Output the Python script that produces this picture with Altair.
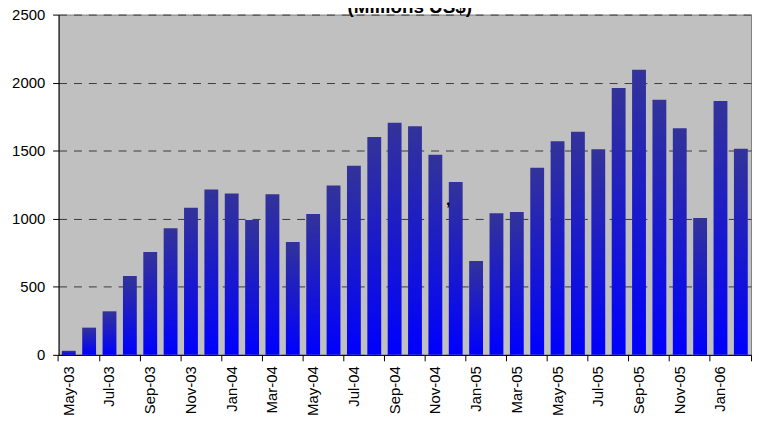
import altair as alt
import pandas as pd

months = ["May-03", "Jun-03", "Jul-03", "Aug-03", "Sep-03", "Oct-03", "Nov-03", "Dec-03",
          "Jan-04", "Feb-04", "Mar-04", "Apr-04", "May-04", "Jun-04", "Jul-04", "Aug-04",
          "Sep-04", "Oct-04", "Nov-04", "Dec-04", "Jan-05", "Feb-05", "Mar-05", "Apr-05",
          "May-05", "Jun-05", "Jul-05", "Aug-05", "Sep-05", "Oct-05", "Nov-05", "Dec-05",
          "Jan-06", "Feb-06"]
values = [30, 200, 320, 580, 755, 930, 1080, 1215,
          1185, 990, 1180, 830, 1035, 1245, 1390, 1600,
          1705, 1680, 1470, 1270, 690, 1040, 1050, 1375,
          1570, 1640, 1510, 1960, 2095, 1875, 1665, 1005,
          1865, 1515]
y_ticks = [0, 500, 1000, 1500, 2000, 2500]
title_text = "(Millions  US$)"
stray_mark = [{"month": "Nov-04", "value": 1140, "t": ","}]

df = pd.DataFrame({"month": months, "value": values})

FONT = "Liberation Sans"
P_IN = 0.32
P_OUT = 0.16
x_scale = alt.Scale(domain=months, paddingInner=P_IN, paddingOuter=P_OUT)
# position of the category slot boundary relative to the bar, in bar widths
edge_left = -P_OUT / (1 - P_IN)
edge_right = 1 + P_OUT / (1 - P_IN)

y_enc = alt.Y(
    "value:Q", title=None,
    scale=alt.Scale(domain=[0, 2500], nice=False),
    axis=alt.Axis(values=y_ticks, format="d", labelFontSize=15, labelFont=FONT,
                  labelColor="black", tickColor="black", tickSize=6, orient="left",
                  domainColor="black", labelPadding=8,
                  grid=True, gridColor="#3a3a3a", gridDash=[8, 7], gridWidth=1),
)

bars = alt.Chart(df).mark_bar(
    color=alt.Gradient(
        gradient="linear",
        stops=[alt.GradientStop(color="#333399", offset=0),
               alt.GradientStop(color="#0000FF", offset=1)],
        x1=0, x2=0, y1=0, y2=1,
    )
).encode(
    x=alt.X("month:N", sort=months, title=None, scale=x_scale,
            axis=alt.Axis(values=months[::2], labelAngle=-90, labelFontSize=15,
                          labelFont=FONT, labelColor="black", ticks=False, orient="bottom",
                          domainColor="black", labelPadding=11, grid=False)),
    y=y_enc,
)

tick_layer = alt.Chart(df).mark_point(opacity=0).encode(
    x=alt.X("month:N", sort=months, title=None, scale=x_scale,
            axis=alt.Axis(values=months[::2], labels=False, domain=False, orient="bottom",
                          tickColor="black", tickSize=6, bandPosition=edge_left,
                          grid=False)),
    y=alt.Y("value:Q"),
)

end_tick_layer = alt.Chart(df).mark_point(opacity=0).encode(
    x=alt.X("month:N", sort=months, title=None, scale=x_scale,
            axis=alt.Axis(values=[months[-1]], labels=False, domain=False, orient="bottom",
                          tickColor="black", tickSize=6, bandPosition=edge_right,
                          grid=False)),
    y=alt.Y("value:Q"),
)

comma = alt.Chart(pd.DataFrame(stray_mark)).mark_text(
    font=FONT, fontSize=16, fontWeight="bold", color="black", dx=13, baseline="middle"
).encode(x=alt.X("month:N", sort=months, scale=x_scale, axis=None),
         y=alt.Y("value:Q"), text="t:N")

title = alt.Chart(pd.DataFrame({"t": [title_text]})).mark_text(
    font=FONT, fontSize=19, fontWeight="bold", color="black", align="center",
    baseline="alphabetic"
).encode(x=alt.value(354), y=alt.value(-2), text="t:N")

chart = alt.layer(bars, tick_layer, end_tick_layer, comma, title).resolve_axis(
    x="independent"
).properties(
    width=698, height=343,
    autosize=alt.AutoSizeParams(type="none"),
    padding={"left": 51, "top": 5, "right": 4, "bottom": 63},
).configure_view(fill="#C0C0C0", stroke="#808080", strokeWidth=1)

chart.save("out.html", embed_options={"renderer": "svg", "actions": False})
